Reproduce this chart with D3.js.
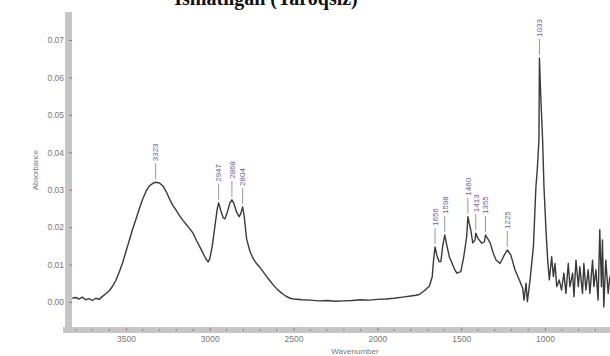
<!DOCTYPE html>
<html>
<head>
<meta charset="utf-8">
<script src="https://cdn.jsdelivr.net/npm/d3@7"></script>
<style>
  html, body { margin: 0; padding: 0; background: #fff; }
  svg { display: block; }
</style>
</head>
<body>
<svg id="chart" width="610" height="356"></svg>
<script>
// ---- data ----
const title = "Ishlatilgan (Yaroqsiz)";
const xLabel = "Wavenumber";
const yLabel = "Absorbance";

const wavenumbers = [
  3820,3800,3780,3760,3740,3720,3700,3680,3660,3640,3620,3600,3580,3560,3540,3520,3500,3480,3460,3440,
  3420,3400,3380,3360,3340,3323,3300,3280,3260,3240,3220,3200,3180,3160,3140,3120,3100,3080,3060,3040,
  3020,3010,3000,2985,2970,2955,2947,2935,2920,2910,2895,2880,2868,2855,2840,2825,2815,2804,2795,2780,
  2760,2740,2720,2700,2680,2660,2640,2620,2600,2580,2560,2540,2520,2500,2450,2400,2350,2300,2250,2200,
  2150,2100,2050,2000,1950,1900,1850,1800,1770,1750,1720,1690,1673,1665,1656,1645,1632,1621,1610,1598,
  1585,1570,1555,1540,1526,1502,1485,1467,1460,1452,1443,1431,1417,1413,1400,1377,1361,1355,1340,1327,
  1309,1292,1268,1248,1225,1204,1179,1153,1133,1125,1113,1105,1089,1069,1054,1046,1036,1033,1026,1014,
  1006,994,984,974,960,950,940,930,915,901,887,875,861,851,835,827,815,801,792,776,
  768,756,742,732,716,708,696,683,673,663,657,649,637,623,613
];
const absorbance = [
  0.0010,0.0012,0.0008,0.0013,0.0006,0.0009,0.0004,0.0010,0.0007,0.0015,0.0022,0.0030,0.0042,0.0058,0.0080,0.0105,0.0135,0.0165,0.0195,0.0222,
  0.0250,0.0275,0.0296,0.0310,0.0317,0.0320,0.0318,0.0310,0.0295,0.0275,0.0258,0.0245,0.0230,0.0218,0.0207,0.0196,0.0184,0.0165,0.0148,0.0130,
  0.0113,0.0107,0.0115,0.0150,0.0200,0.0250,0.0265,0.0245,0.0225,0.0222,0.0240,0.0265,0.0273,0.0262,0.0240,0.0228,0.0236,0.0254,0.0230,0.0168,
  0.0135,0.0115,0.0102,0.0092,0.0080,0.0068,0.0056,0.0045,0.0035,0.0027,0.0020,0.0014,0.0010,0.0008,0.0006,0.0005,0.0003,0.0004,0.0002,0.0003,
  0.0004,0.0006,0.0005,0.0007,0.0008,0.0010,0.0013,0.0016,0.0018,0.0020,0.0030,0.0042,0.0067,0.0110,0.0147,0.0125,0.0108,0.0108,0.0150,0.0179,
  0.0150,0.0120,0.0104,0.0088,0.0077,0.0081,0.0120,0.0175,0.0228,0.0210,0.0193,0.0158,0.0166,0.0184,0.0170,0.0157,0.0161,0.0179,0.0168,0.0158,
  0.0131,0.0112,0.0103,0.0121,0.0139,0.0126,0.0086,0.0059,0.0037,0.0005,0.0050,0.0001,0.0059,0.0148,0.0308,0.0353,0.0433,0.0652,0.0560,0.0433,
  0.0308,0.0193,0.0112,0.0059,0.0121,0.0068,0.0103,0.0041,0.0059,0.0032,0.0077,0.0023,0.0103,0.0041,0.0077,0.0014,0.0112,0.0041,0.0094,0.0023,
  0.0103,0.0032,0.0086,0.0023,0.0112,0.0041,0.0086,0.0005,0.0193,0.0041,0.0166,-0.0013,0.0112,0.0023,0.0068
];

const peakWavenumbers = [3323, 2947, 2868, 2804, 1656, 1598, 1460, 1413, 1355, 1225, 1033];
const peakHeights     = [0.0320, 0.0265, 0.0273, 0.0254, 0.0147, 0.0179, 0.0228, 0.0184, 0.0179, 0.0139, 0.0652];

const xTickValues = [3500, 3000, 2500, 2000, 1500, 1000];
const xMinorTicks = [3800,3700,3600,3400,3300,3200,3100,2900,2800,2700,2600,2400,2300,2200,2100,1900,1800,1700,1600,1400,1300,1200,1100,900,800,700];
const yTickValues = [0, 0.01, 0.02, 0.03, 0.04, 0.05, 0.06, 0.07];

// ---- layout ----
const svg = d3.select("#chart");
const plotLeft = 72, plotRight = 610, plotTop = 12, plotBottom = 327;

const x = d3.scaleLinear().domain([3822, 612]).range([plotLeft, plotRight]);
const y = d3.scaleLinear().domain([0, 0.07]).range([302, 40]);

// title (partly cut off at top)
svg.append("text")
  .attr("x", 266).attr("y", 5)
  .attr("text-anchor", "middle")
  .attr("font-family", "Liberation Serif, Times New Roman, serif")
  .attr("font-weight", "bold")
  .attr("font-size", 20)
  .attr("fill", "#111")
  .text(title);

// gray axis bands
svg.append("rect").attr("x", 65).attr("y", plotTop).attr("width", 7).attr("height", plotBottom - plotTop + 6).attr("fill", "#c6c6c6");
svg.append("rect").attr("x", 63).attr("y", plotBottom).attr("width", 610 - 63).attr("height", 6).attr("fill", "#c6c6c6");

// y axis
const yAxis = d3.axisLeft(y).tickValues(yTickValues).tickFormat(d3.format(".2f")).tickSize(3).tickPadding(1);
const gy = svg.append("g").attr("transform", `translate(${plotLeft},0)`).call(yAxis);
gy.select(".domain").remove();
gy.selectAll(".tick line").attr("stroke", "#d06070").attr("stroke-width", 1);
gy.selectAll(".tick text").attr("fill", "#777").attr("font-size", 8.5)
  .attr("font-family", "Liberation Sans, Arial, sans-serif").attr("x", -8);

// x axis
const xAxis = d3.axisBottom(x).tickValues(xTickValues).tickFormat(d3.format("d")).tickSize(3).tickPadding(5);
const gx = svg.append("g").attr("transform", `translate(0,${plotBottom + 1})`).call(xAxis);
gx.select(".domain").remove();
gx.selectAll(".tick line").attr("stroke", "#d06070").attr("stroke-width", 1);
gx.selectAll(".tick text").attr("fill", "#777").attr("font-size", 8.5)
  .attr("font-family", "Liberation Sans, Arial, sans-serif");

// minor ticks on bottom band
svg.append("g").selectAll("circle").data(xMinorTicks).join("circle")
  .attr("cx", d => x(d)).attr("cy", plotBottom + 3).attr("r", 0.8).attr("fill", "#777");

// axis labels
svg.append("text")
  .attr("x", 355).attr("y", 354)
  .attr("text-anchor", "middle")
  .attr("font-family", "Liberation Sans, Arial, sans-serif")
  .attr("font-size", 8).attr("fill", "#777")
  .text(xLabel);
svg.append("text")
  .attr("transform", "translate(38,170) rotate(-90)")
  .attr("text-anchor", "middle")
  .attr("font-family", "Liberation Sans, Arial, sans-serif")
  .attr("font-size", 7.5).attr("fill", "#777")
  .text(yLabel);

// spectrum
const data = wavenumbers.map((w, i) => [w, absorbance[i]]);
const line = d3.line().x(d => x(d[0])).y(d => y(d[1]));
svg.append("path")
  .datum(data)
  .attr("fill", "none")
  .attr("stroke", "#3a3a3a")
  .attr("stroke-width", 1.4)
  .attr("stroke-linejoin", "round")
  .attr("d", line);

// peak annotations
const peaks = peakWavenumbers.map((w, i) => ({ w, h: peakHeights[i] }));
const pg = svg.append("g");
pg.selectAll("line").data(peaks).join("line")
  .attr("x1", d => x(d.w)).attr("x2", d => x(d.w))
  .attr("y1", d => y(d.h) - 3).attr("y2", d => y(d.h) - 19)
  .attr("stroke", "#999").attr("stroke-width", 1);
pg.selectAll("text").data(peaks).join("text")
  .attr("transform", d => `translate(${x(d.w) + 2.8},${y(d.h) - 21}) rotate(-90)`)
  .attr("text-anchor", "start")
  .attr("font-family", "Liberation Sans, Arial, sans-serif")
  .attr("font-size", 8)
  .attr("fill", "#6b5d9e")
  .text(d => d.w);
</script>
</body>
</html>
